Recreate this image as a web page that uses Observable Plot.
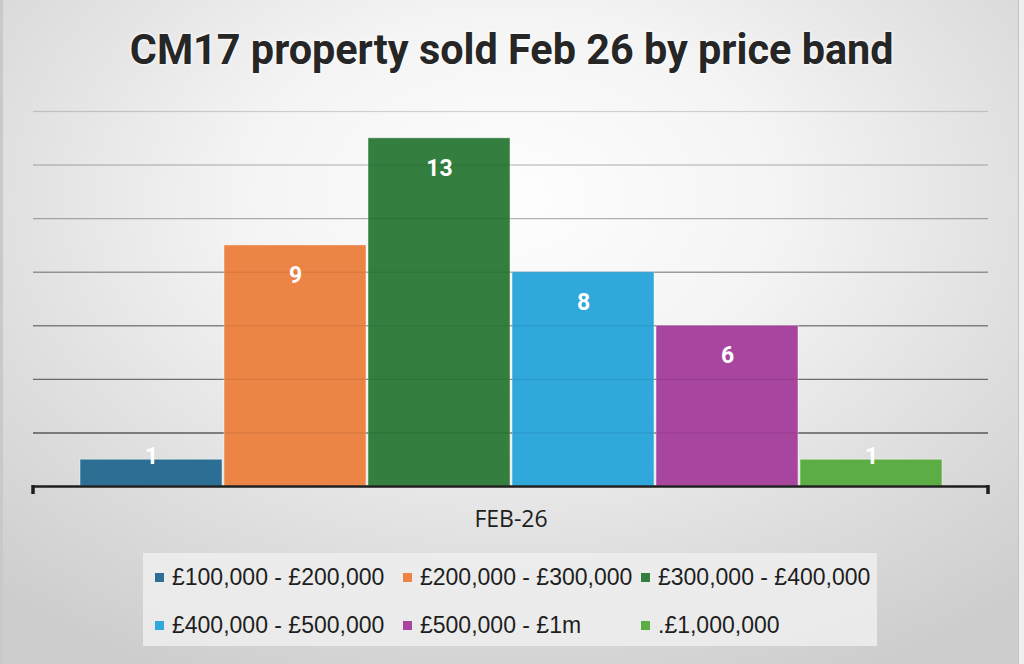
<!DOCTYPE html>
<html>
<head>
<meta charset="utf-8">
<script src="https://cdn.jsdelivr.net/npm/d3@7"></script>
<script src="https://cdn.jsdelivr.net/npm/@observablehq/plot@0.6"></script>
<style>
  html, body { margin: 0; padding: 0; }
  #wrap {
    position: relative; width: 1024px; height: 664px; overflow: hidden;
    background: radial-gradient(ellipse 75% 80% at 50% 30%, #fefefe 0%, #f4f4f4 35%, #dedede 70%, #cdcdcd 100%);
    font-family: Roboto, "Liberation Sans", sans-serif;
  }
  #edgeL { position: absolute; left: 0; top: 0; width: 3px; height: 664px; background: #c9c9c9; }
  #edgeR { position: absolute; right: 0; top: 0; width: 5px; height: 664px; background: #efefef; border-left: 1px solid #c4c4c4; }
  #title {
    position: absolute; left: 0; top: 22px; width: 1024px; text-align: center;
    font-family: Roboto, sans-serif; font-weight: 700; font-size: 42px; line-height: 56px;
    color: #262626; text-shadow: 0 0 4px #fff, 0 0 2px #fff;
  }
  #title span { display: inline-block; transform: scaleX(0.985); transform-origin: center; }
  #chart { position: absolute; left: 0; top: 90px; }
  #legend {
    position: absolute; left: 143px; top: 553px; width: 734px; height: 93px;
    background: rgba(238,238,238,0.85);
  }
  .item { position: absolute; height: 28px; display: flex; align-items: center; }
  .sw { width: 9px; height: 9px; margin-right: 8px; flex: none; }
  .lb { display: inline-block; white-space: nowrap; font-size: 23px; color: #1e1e1e;
        font-family: "Liberation Sans", Arial, sans-serif; }
</style>
</head>
<body>
<div id="wrap">
  <div id="edgeL"></div>
  <div id="edgeR"></div>
  <div id="title"><span>CM17 property sold Feb 26 by price band</span></div>
  <div id="chart"></div>
  <div id="legend"></div>
</div>
<script>
// ---- data ----
const bands = ["£100,000 - £200,000", "£200,000 - £300,000", "£300,000 - £400,000",
               "£400,000 - £500,000", "£500,000 - £1m", ".£1,000,000"];
const sold = [1, 9, 13, 8, 6, 1];
const bandColors = ["#2d6f94", "#ec8446", "#347e3f", "#30a8dc", "#a8469f", "#5dad45"];
const period = ["FEB-26"];
const yTicks = [2, 4, 6, 8, 10, 12, 14];

const data = bands.map((b, i) => ({band: b, sold: sold[i]}));

const endTicks = (index, scales, values, dimensions) => {
  const g = d3.create("svg:g");
  const y0 = scales.y(0);
  const xl = dimensions.marginLeft, xr = dimensions.width - dimensions.marginRight;
  for (const x of [xl, xr]) {
    g.append("line").attr("x1", x).attr("x2", x).attr("y1", y0 - 1).attr("y2", y0 + 8)
      .attr("stroke", "#1e1e1e").attr("stroke-width", 3.5);
  }
  return g.node();
};

const chart = Plot.plot({
  width: 1024,
  height: 450,
  marginLeft: 33,
  marginRight: 36,
  marginTop: 21,
  marginBottom: 54,
  style: {background: "transparent", overflow: "visible"},
  x: {domain: bands, paddingInner: 0.016, paddingOuter: 0.31, axis: null},
  y: {domain: [0, 14], axis: null},
  color: {domain: bands, range: bandColors},
  opacity: {domain: [2, 14], range: [0.75, 0.08]},
  marks: [
    Plot.ruleY(yTicks, {stroke: "#3a3a3a", strokeWidth: 1.4, strokeOpacity: d => d}),
    Plot.barY(data, {x: "band", y: "sold", fill: "band", stroke: "#ffffff", strokeOpacity: 0.45, strokeWidth: 1}),
    Plot.ruleY(yTicks, {stroke: "#000", strokeWidth: 1, strokeOpacity: 0.1}),
    Plot.text(data.filter(d => d.sold >= 2), {x: "band", y: "sold", text: d => String(d.sold), dy: 30,
      fill: "#fff", fontSize: 23, fontWeight: 700, fontFamily: "Roboto, sans-serif"}),
    Plot.text(data.filter(d => d.sold < 2), {x: "band", y: "sold", text: d => String(d.sold), dy: -3,
      fill: "#fff", fontSize: 23, fontWeight: 700, fontFamily: "Roboto, sans-serif"}),
    Plot.ruleY([0], {stroke: "#1e1e1e", strokeWidth: 2.6}),
    endTicks,
    Plot.text(period, {frameAnchor: "bottom", lineAnchor: "middle", dy: 33, text: d => d, fill: "#1e1e1e",
      fontSize: 23, fontFamily: "'Open Sans', 'Liberation Sans', sans-serif"})
  ]
});
document.getElementById("chart").appendChild(chart);

// ---- legend ----
const cols = [12, 260, 498];
const rows = [10, 58];
const legend = document.getElementById("legend");
bands.forEach((b, i) => {
  const it = document.createElement("div");
  it.className = "item";
  it.style.left = cols[i % 3] + "px";
  it.style.top = rows[Math.floor(i / 3)] + "px";
  const sw = document.createElement("span");
  sw.className = "sw";
  sw.style.background = bandColors[i];
  const lb = document.createElement("span");
  lb.className = "lb";
  lb.textContent = b;
  it.appendChild(sw); it.appendChild(lb);
  legend.appendChild(it);
});
</script>
</body>
</html>
